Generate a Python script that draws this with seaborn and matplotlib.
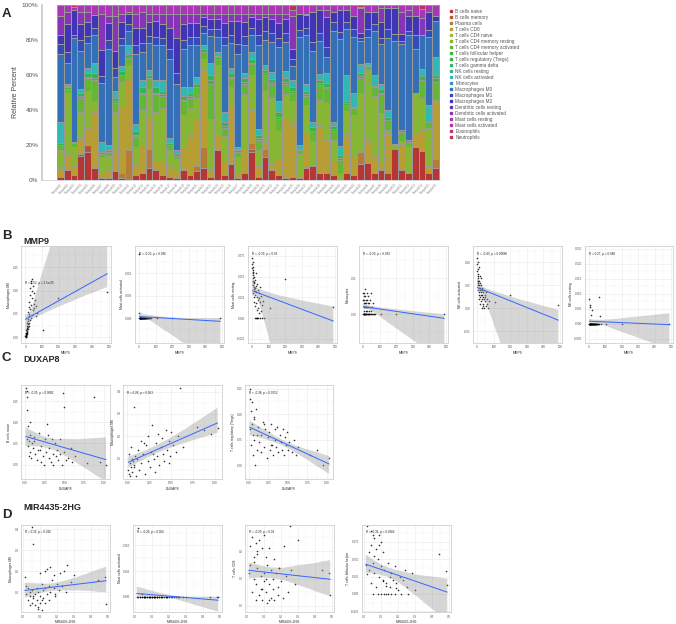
import numpy as np
import seaborn as sns
import matplotlib
matplotlib.use("Agg")
import matplotlib.pyplot as plt
from matplotlib.lines import Line2D
from matplotlib.collections import PolyCollection
from matplotlib.ticker import PercentFormatter, FormatStrFormatter, AutoMinorLocator

W, H = 676, 624

# ---- panel A data: CIBERSORT fractions (percent) ----
cell_types = ["B cells naive", "B cells memory", "Plasma cells", "T cells CD8",
              "T cells CD4 naive", "T cells CD4 memory resting",
              "T cells CD4 memory activated", "T cells follicular helper",
              "T cells regulatory (Tregs)", "T cells gamma delta", "NK cells resting",
              "NK cells activated", "Monocytes", "Macrophages M0", "Macrophages M1",
              "Macrophages M2", "Dendritic cells resting", "Dendritic cells activated",
              "Mast cells resting", "Mast cells activated", "Eosinophils", "Neutrophils"]

samples = [f"Sample{i:02d}" for i in range(1, 57)]

fractions = [
    [2, 0, 0, 5, 0, 10, 3, 0, 1, 0, 0, 12, 0, 39, 6, 5, 0, 11, 6, 0, 0, 0],
    [6, 0, 0, 9, 0, 35, 2, 1, 1, 0, 0, 1, 0, 12, 6, 16, 0, 7, 4, 0, 0, 0],
    [3, 0, 0, 5, 0, 11, 2, 0, 1, 0, 0, 0, 0, 59, 2, 14, 0, 0, 2, 0, 0, 1],
    [14, 1, 0, 9, 0, 15, 8, 1, 2, 0, 0, 2, 0, 22, 6, 9, 0, 7, 4, 0, 0, 0],
    [16, 4, 0, 10, 0, 21, 7, 1, 2, 0, 0, 3, 0, 14, 4, 8, 0, 6, 4, 0, 0, 0],
    [7, 0, 0, 32, 0, 6, 12, 1, 3, 0, 0, 6, 0, 16, 4, 7, 0, 0, 6, 0, 0, 0],
    [1, 0, 0, 3, 0, 9, 2, 0, 1, 0, 0, 6, 0, 34, 4, 15, 0, 21, 5, 0, 0, 0],
    [1, 0, 0, 5, 0, 8, 2, 0, 1, 0, 0, 3, 0, 55, 5, 10, 0, 4, 6, 0, 0, 0],
    [5, 0, 0, 12, 0, 22, 5, 1, 2, 0, 0, 4, 0, 8, 5, 10, 0, 20, 6, 0, 0, 0],
    [1, 0, 3, 38, 0, 14, 4, 0, 2, 0, 0, 3, 0, 12, 4, 9, 0, 5, 5, 0, 0, 0],
    [0, 0, 17, 41, 0, 8, 4, 0, 2, 0, 0, 5, 0, 8, 4, 6, 0, 1, 4, 0, 0, 0],
    [3, 0, 0, 6, 0, 10, 6, 1, 2, 0, 0, 4, 0, 40, 5, 10, 0, 8, 5, 0, 0, 0],
    [4, 0, 0, 16, 0, 20, 9, 1, 3, 0, 0, 4, 0, 16, 5, 9, 0, 9, 4, 0, 0, 0],
    [7, 0, 11, 18, 0, 16, 6, 0, 2, 0, 0, 3, 0, 15, 4, 8, 0, 5, 5, 0, 0, 0],
    [6, 0, 0, 5, 0, 28, 10, 1, 3, 0, 0, 4, 0, 20, 5, 9, 0, 4, 5, 0, 0, 0],
    [3, 0, 0, 8, 0, 30, 7, 1, 2, 0, 0, 6, 0, 20, 4, 8, 0, 6, 5, 0, 0, 0],
    [2, 0, 0, 6, 0, 9, 3, 0, 1, 0, 0, 3, 0, 45, 6, 12, 0, 8, 5, 0, 0, 0],
    [1, 0, 0, 4, 0, 7, 2, 0, 1, 0, 0, 2, 0, 38, 6, 20, 0, 14, 5, 0, 0, 0],
    [6, 0, 0, 13, 0, 18, 8, 1, 2, 0, 0, 5, 0, 22, 5, 9, 0, 6, 5, 0, 0, 0],
    [3, 0, 0, 22, 0, 16, 6, 1, 2, 0, 0, 3, 0, 24, 5, 8, 0, 5, 5, 0, 0, 0],
    [5, 0, 3, 27, 0, 12, 6, 0, 2, 0, 0, 4, 0, 18, 5, 8, 0, 5, 5, 0, 0, 0],
    [7, 0, 12, 44, 0, 6, 4, 0, 2, 0, 0, 2, 0, 7, 4, 5, 0, 2, 5, 0, 0, 0],
    [2, 0, 0, 4, 0, 29, 20, 2, 3, 0, 0, 7, 0, 15, 4, 6, 0, 3, 5, 0, 0, 0],
    [17, 0, 0, 9, 0, 40, 3, 1, 1, 0, 0, 2, 0, 9, 4, 6, 0, 3, 5, 0, 0, 0],
    [3, 0, 0, 8, 0, 14, 5, 1, 2, 0, 0, 6, 0, 38, 5, 8, 0, 5, 5, 0, 0, 0],
    [9, 0, 0, 34, 0, 10, 5, 1, 2, 0, 0, 3, 0, 14, 5, 8, 0, 4, 5, 0, 0, 0],
    [1, 0, 0, 3, 0, 9, 3, 1, 1, 0, 0, 1, 0, 53, 6, 13, 0, 4, 5, 0, 0, 0],
    [4, 0, 0, 14, 0, 31, 6, 1, 2, 0, 0, 3, 0, 16, 5, 8, 0, 5, 5, 0, 0, 0],
    [16, 2, 3, 19, 0, 20, 6, 1, 2, 0, 0, 4, 0, 10, 4, 6, 0, 2, 5, 0, 0, 0],
    [2, 0, 0, 6, 0, 9, 6, 1, 2, 0, 0, 3, 0, 48, 6, 9, 0, 3, 5, 0, 0, 0],
    [13, 0, 5, 4, 0, 29, 9, 1, 2, 0, 0, 3, 0, 14, 5, 8, 0, 2, 5, 0, 0, 0],
    [6, 0, 0, 3, 0, 38, 8, 1, 2, 0, 0, 4, 0, 17, 5, 8, 0, 3, 5, 0, 0, 0],
    [3, 0, 0, 9, 0, 16, 7, 1, 3, 0, 0, 6, 0, 31, 5, 9, 0, 5, 5, 0, 0, 0],
    [1, 0, 0, 35, 0, 13, 6, 1, 2, 0, 0, 4, 0, 17, 5, 8, 0, 3, 5, 0, 0, 0],
    [2, 0, 0, 30, 0, 13, 5, 1, 2, 0, 0, 4, 0, 8, 4, 6, 0, 19, 3, 0, 0, 3],
    [1, 0, 0, 2, 0, 12, 2, 0, 1, 0, 0, 2, 0, 62, 4, 9, 0, 0, 5, 0, 0, 0],
    [7, 0, 0, 20, 0, 16, 5, 1, 2, 0, 0, 4, 0, 28, 4, 7, 0, 1, 5, 0, 0, 0],
    [8, 0, 0, 0, 0, 15, 6, 0, 2, 0, 0, 3, 0, 42, 5, 18, 0, 0, 4, 0, 0, 0],
    [4, 0, 0, 27, 0, 15, 9, 1, 2, 0, 0, 3, 0, 19, 5, 13, 0, 0, 3, 0, 0, 0],
    [4, 0, 0, 20, 0, 22, 9, 1, 2, 0, 0, 6, 0, 10, 6, 18, 0, 4, 3, 0, 0, 0],
    [3, 0, 0, 8, 0, 12, 5, 1, 2, 0, 0, 2, 0, 52, 5, 6, 0, 0, 4, 0, 0, 0],
    [0, 0, 0, 0, 0, 4, 8, 1, 2, 0, 0, 5, 0, 63, 4, 13, 0, 0, 3, 0, 0, 0],
    [4, 0, 0, 23, 0, 13, 4, 1, 1, 0, 0, 15, 0, 27, 4, 7, 0, 0, 3, 0, 0, 0],
    [3, 0, 0, 10, 0, 24, 4, 0, 1, 0, 0, 8, 0, 32, 4, 8, 0, 0, 6, 0, 0, 0],
    [9, 0, 7, 0, 0, 34, 9, 1, 2, 0, 0, 5, 0, 13, 2, 3, 0, 14, 1, 0, 0, 1],
    [10, 0, 0, 13, 0, 40, 2, 0, 1, 0, 0, 1, 0, 15, 4, 10, 0, 0, 4, 0, 0, 0],
    [4, 0, 0, 10, 0, 34, 5, 0, 1, 0, 0, 6, 0, 25, 4, 7, 0, 0, 4, 0, 0, 0],
    [6, 0, 0, 4, 0, 29, 11, 1, 2, 0, 0, 3, 0, 23, 4, 9, 0, 8, 2, 0, 0, 0],
    [4, 0, 0, 23, 0, 2, 6, 0, 2, 0, 0, 4, 0, 42, 5, 12, 0, 0, 2, 0, 0, 0],
    [18, 0, 0, 0, 0, 3, 0, 0, 0, 0, 0, 0, 0, 59, 4, 15, 0, 0, 2, 0, 0, 0],
    [6, 0, 0, 15, 0, 2, 5, 0, 1, 0, 0, 0, 0, 50, 2, 4, 0, 13, 4, 0, 0, 0],
    [4, 0, 0, 0, 0, 15, 3, 0, 1, 0, 0, 0, 0, 60, 2, 9, 0, 3, 3, 0, 0, 0],
    [19, 0, 0, 8, 0, 23, 0, 0, 0, 0, 0, 0, 0, 25, 8, 11, 0, 0, 6, 0, 0, 0],
    [16, 0, 0, 12, 0, 18, 10, 0, 2, 0, 0, 4, 0, 19, 0, 0, 0, 10, 5, 0, 0, 2],
    [4, 0, 0, 4, 0, 22, 3, 0, 0, 0, 0, 10, 0, 39, 4, 10, 0, 0, 4, 0, 0, 0],
    [7, 0, 5, 34, 0, 0, 10, 2, 2, 0, 0, 10, 0, 21, 0, 3, 0, 0, 6, 0, 0, 0],
]

# ---- correlation panels: gene expression (x) and immune cell fractions (y) ----
mmp9 = [1, 2, 2, 3, 4, 4, 5, 6, 6, 7, 8, 8, 9, 10, 11, 12, 12, 13, 14, 15,
        16, 17, 18, 19, 20, 21, 22, 23, 24, 25, 27, 28, 29, 30, 32, 33, 35, 36, 38, 40,
        41, 43, 45, 47, 50, 52, 55, 58, 62, 65, 70, 105, 198, 490, 3]
mmp9_m0 = [0.002, 0.000, 0.004, 0.006, 0.001, 0.010, 0.003, 0.008, 0.015, 0.005,
           0.012, 0.020, 0.007, 0.018, 0.025, 0.010, 0.030, 0.014, 0.022, 0.040,
           0.017, 0.028, 0.055, 0.035, 0.024, 0.065, 0.045, 0.030, 0.075, 0.050,
           0.038, 0.090, 0.060, 0.105, 0.042, 0.115, 0.070, 0.120, 0.048, 0.100,
           0.085, 0.125, 0.058, 0.110, 0.072, 0.095, 0.062, 0.080, 0.045, 0.068,
           0.052, 0.015, 0.083, 0.096, 0.009]
mmp9_mast_act = [0.0143, 0, 0.0012, 0, 0, 0, 0, 0, 0, 0,
                 0, 0, 0, 0, 0, 0, 0, 0, 0, 0,
                 0, 0, 0, 0, 0, 0, 0, 0, 0, 0,
                 0, 0, 0, 0, 0, 0, 0, 0, 0, 0,
                 0, 0, 0, 0, 0, 0, 0, 0, 0, 0,
                 0, 0, 0, 0, 0]
mmp9_mast_rest = [0.072, 0.065, 0.060, 0.055, 0.058, 0.048, 0.062, 0.040, 0.052, 0.045,
                  0.030, 0.068, 0.035, 0.042, 0.025, 0.050, 0.038, 0.020, 0.044, 0.033,
                  0.000, 0.015, 0.036, 0.028, 0.046, 0.000, 0.032, 0.018, 0.054, 0.039,
                  0.010, 0.000, 0.026, 0.041, 0.000, 0.022, 0.034, 0.012, 0.000, 0.030,
                  0.006, 0.024, 0.000, 0.019, 0.037, 0.008, 0.027, 0.000, 0.016, 0.021,
                  0.000, 0.012, 0.047, 0.013, 0.056]
mmp9_mono = [0.006, 0.000, 0.004, 0.000, 0.005, 0.002, 0.000, 0.003, 0.006, 0.000,
             0.004, 0.001, 0.000, 0.005, 0.002, 0.000, 0.003, 0.007, 0.000, 0.002,
             0.004, 0.000, 0.001, 0.003, 0.000, 0.006, 0.002, 0.000, 0.004, 0.001,
             0.000, 0.003, 0.000, 0.002, 0.005, 0.000, 0.001, 0.003, 0.000, 0.002,
             0.000, 0.004, 0.000, 0.001, 0.006, 0.000, 0.002, 0.000, 0.003, 0.000,
             0.000, 0.000, 0.000, 0.000, 0.000]
mmp9_nk_act = [0.110, 0.095, 0.080, 0.100, 0.070, 0.060, 0.085, 0.050, 0.065, 0.040,
               0.075, 0.055, 0.030, 0.045, 0.090, 0.035, 0.060, 0.020, 0.050, 0.070,
               0.025, 0.040, 0.055, 0.010, 0.045, 0.030, 0.065, 0.015, 0.035, 0.050,
               0.000, 0.040, 0.020, 0.030, 0.045, 0.005, 0.025, 0.035, 0.010, 0.040,
               0.000, 0.020, 0.030, 0.015, 0.025, 0.005, 0.035, 0.010, 0.020, 0.000,
               0.015, 0.013, 0.029, 0.007, 0.060]
mmp9_nk_rest = [0, 0, 0.0083, 0, 0, 0.0055, 0, 0, 0.0063, 0,
                0, 0, 0.0030, 0, 0, 0, 0, 0, 0, 0.0045,
                0, 0, 0, 0, 0, 0, 0, 0, 0, 0,
                0, 0, 0, 0, 0, 0, 0, 0, 0, 0,
                0, 0, 0, 0, 0, 0, 0, 0.0089, 0, 0.0026,
                0, 0, 0, 0, 0]

duxap8 = [0.01, 0.02, 0.02, 0.03, 0.03, 0.04, 0.04, 0.05, 0.05, 0.06,
          0.07, 0.08, 0.09, 0.10, 0.12, 0.13, 0.15, 0.16, 0.18, 0.20,
          0.21, 0.23, 0.24, 0.26, 0.27, 0.28, 0.30, 0.31, 0.33, 0.34,
          0.35, 0.36, 0.38, 0.40, 0.41, 0.42, 0.44, 0.45, 0.47, 0.48,
          0.49, 0.50, 0.52, 0.55, 0.58, 0.60, 0.63, 0.07, 0.11, 0.19,
          0.29, 0.79, 0.88, 0.95, 1.03]
duxap8_b_naive = [0.180, 0.175, 0.160, 0.130, 0.060, 0.090, 0.045, 0.055, 0.020, 0.070,
                  0.030, 0.015, 0.050, 0.040, 0.065, 0.025, 0.010, 0.035, 0.075, 0.005,
                  0.045, 0.020, 0.000, 0.060, 0.030, 0.095, 0.015, 0.040, 0.005, 0.060,
                  0.025, 0.000, 0.050, 0.020, 0.035, 0.010, 0.060, 0.025, 0.000, 0.170,
                  0.135, 0.030, 0.010, 0.015, 0.040, 0.005, 0.020, 0.100, 0.055, 0.035,
                  0.070, 0.004, 0.160, 0.005, 0.000]
duxap8_m0 = [0.050, 0.120, 0.030, 0.080, 0.020, 0.150, 0.060, 0.100, 0.040, 0.090,
             0.330, 0.070, 0.110, 0.020, 0.140, 0.050, 0.180, 0.080, 0.120, 0.030,
             0.160, 0.090, 0.200, 0.060, 0.130, 0.250, 0.100, 0.040, 0.170, 0.110,
             0.210, 0.070, 0.150, 0.190, 0.120, 0.090, 0.230, 0.140, 0.080, 0.180,
             0.110, 0.220, 0.160, 0.130, 0.200, 0.415, 0.150, 0.060, 0.100, 0.170,
             0.120, 0.240, 0.230, 0.210, 0.235]
duxap8_tregs = [0.150, 0.130, 0.070, 0.107, 0.040, 0.123, 0.080, 0.060, 0.020, 0.090,
                0.050, 0.000, 0.110, 0.030, 0.075, 0.045, 0.060, 0.025, 0.085, 0.035,
                0.070, 0.015, 0.055, 0.065, 0.030, 0.080, 0.040, 0.020, 0.070, 0.050,
                0.035, 0.075, 0.025, 0.060, 0.045, 0.030, 0.070, 0.020, 0.055, 0.040,
                0.065, 0.030, 0.045, 0.025, 0.050, 0.020, 0.035, 0.095, 0.060, 0.080,
                0.040, 0.020, 0.030, 0.000, 0.015]

mir4435 = [0.01, 0.02, 0.02, 0.03, 0.03, 0.04, 0.04, 0.05, 0.05, 0.05,
           0.06, 0.06, 0.07, 0.07, 0.08, 0.08, 0.09, 0.09, 0.10, 0.10,
           0.10, 0.11, 0.11, 0.12, 0.12, 0.13, 0.13, 0.14, 0.14, 0.15,
           0.15, 0.16, 0.16, 0.17, 0.18, 0.18, 0.19, 0.20, 0.21, 0.22,
           0.23, 0.24, 0.25, 0.26, 0.28, 0.30, 0.04, 0.06, 0.09, 0.11,
           0.13, 0.19, 0.44, 0.48, 0.49]
mir_m0 = [0.17, 0.13, 0.09, 0.12, 0.06, 0.10, 0.08, 0.41, 0.05, 0.11,
          0.33, 0.07, 0.09, 0.04, 0.12, 0.06, 0.02, 0.10, 0.19, 0.08,
          0.05, 0.14, 0.015, 0.11, 0.07, 0.20, 0.12, 0.09, 0.21, 0.13,
          0.06, 0.22, 0.10, 0.16, 0.12, 0.18, 0.09, 0.14, 0.11, 0.19,
          0.13, 0.20, 0.10, 0.23, 0.15, 0.18, 0.04, 0.08, 0.03, 0.06,
          0.05, 0.08, 0.16, 0.17, 0.043]
mir_mast_act = [0, 0, 0.0135, 0, 0, 0.0006, 0, 0, 0, 0,
                0, 0, 0, 0, 0, 0, 0, 0, 0, 0,
                0, 0, 0, 0, 0, 0, 0, 0, 0, 0,
                0, 0, 0, 0, 0, 0, 0, 0, 0, 0,
                0, 0, 0, 0, 0, 0, 0, 0, 0, 0,
                0, 0, 0, 0, 0]
mir_cd8 = [0.12, 0.22, 0.15, 0.05, 0.25, 0.18, 0.10, 0.02, 0.23, 0.08,
           0.14, 0.20, 0.04, 0.24, 0.11, 0.06, 0.21, 0.02, 0.09, 0.26,
           0.12, 0.05, 0.18, 0.01, 0.15, 0.08, 0.21, 0.03, 0.13, 0.10,
           0.06, 0.17, 0.02, 0.12, 0.07, 0.04, 0.14, 0.09, 0.03, 0.22,
           0.11, 0.05, 0.29, 0.13, 0.08, 0.24, 0.16, 0.19, 0.06, 0.10,
           0.02, 0.14, 0.13, 0.12, 0.04]
mir_tfh = [0.042, 0.098, 0.028, 0.060, 0.035, 0.070, 0.015, 0.085, 0.045, 0.000,
           0.080, 0.030, 0.065, 0.010, 0.050, 0.000, 0.085, 0.025, 0.075, 0.000,
           0.040, 0.020, 0.060, 0.000, 0.035, 0.000, 0.015, 0.045, 0.000, 0.025,
           0.010, 0.000, 0.030, 0.020, 0.000, 0.040, 0.015, 0.005, 0.025, 0.000,
           0.020, 0.035, 0.010, 0.000, 0.030, 0.005, 0.090, 0.055, 0.070, 0.018,
           0.012, 0.008, 0.057, 0.033, 0.013]

sns.set_style("white")
plt.rcParams["font.family"] = ["Liberation Sans", "DejaVu Sans"]

fig = plt.figure(figsize=(W / 100, H / 100), dpi=100)


def box(x, y, w, h):
    # pixel box (left, top, width, height) -> figure fraction rect
    return [x / W, 1 - (y + h) / H, w / W, h / H]


# ================= A: stacked relative percent =================
ax = fig.add_axes(box(42, 5, 398, 175))
frac = np.array(fractions, dtype=float)
frac = frac / frac.sum(axis=1, keepdims=True)
cum = frac.cumsum(axis=1)
colors = sns.hls_palette(len(cell_types), h=0.0, l=0.46, s=0.55)

# draw cumulative totals from the top category down so each layer shows its own slice
for i in range(len(cell_types) - 1, -1, -1):
    sns.barplot(x=samples, y=cum[:, i], color=colors[i], saturation=1, width=1.0,
                edgecolor="#9a9a9a", linewidth=0.7, errorbar=None, ax=ax)

ax.set_xlim(-2.7, 55.65)
ax.set_ylim(0, 1)
ax.set_yticks(np.arange(0, 1.01, 0.2))
ax.yaxis.set_major_formatter(PercentFormatter(1.0, decimals=0))
ax.set_xticks(range(len(samples)))
ax.set_xticklabels(samples, rotation=45, ha="right", rotation_mode="anchor",
                   fontsize=2.2, color="#888888")
ax.tick_params(axis="y", labelsize=4.6, labelcolor="#555555", length=1.5, width=0.5,
               color="#bbbbbb", pad=1)
ax.tick_params(axis="x", length=1.2, width=0.3, color="#bbbbbb", pad=0.5)
ax.set_xlabel("")
ax.set_ylabel("Relative Percent", fontsize=5, color="#444444", labelpad=2)
for side in ["top", "right"]:
    ax.spines[side].set_visible(False)
ax.spines["left"].set_color("#c8c8c8")
ax.spines["left"].set_linewidth(1.2)
ax.spines["bottom"].set_color("#d0d0d0")
ax.spines["bottom"].set_linewidth(0.6)

handles = [Line2D([], [], ls="", marker="s", markersize=1.8, color=c) for c in colors]
ax.legend(handles, cell_types, loc="upper left", bbox_to_anchor=(449 / W, 1 - 9 / H),
          bbox_transform=fig.transFigure, frameon=False, fontsize=3.4,
          labelcolor="#555555", handlelength=0.8, handletextpad=0.5,
          labelspacing=0.21, borderaxespad=0, borderpad=0)


# ================= B/C/D: correlation panels =================
def corr_panel(rect, x, y, xlabel, ylabel, note, xlim, xticks, xfmt, ylim, yticks, yfmt,
               note_y=0.94):
    ax = fig.add_axes(box(*rect))
    sns.regplot(x=x, y=y, ax=ax, seed=1,
                scatter_kws={"s": 1.4, "color": "black", "linewidths": 0},
                line_kws={"color": "#3366ff", "lw": 0.7})
    for coll in ax.collections:
        if isinstance(coll, PolyCollection):
            coll.set_facecolor("#999999")
            coll.set_alpha(0.4)
            coll.set_edgecolor("none")
    ax.set_xlim(*xlim)
    ax.set_ylim(*ylim)
    ax.set_xticks(xticks)
    ax.set_yticks(yticks)
    ax.xaxis.set_major_formatter(FormatStrFormatter(xfmt))
    ax.yaxis.set_major_formatter(FormatStrFormatter(yfmt))
    ax.xaxis.set_minor_locator(AutoMinorLocator(2))
    ax.yaxis.set_minor_locator(AutoMinorLocator(2))
    ax.grid(True, which="major", color="#ebebeb", lw=0.45)
    ax.grid(True, which="minor", color="#f2f2f2", lw=0.3)
    ax.set_axisbelow(True)
    ax.tick_params(which="major", labelsize=2.1, labelcolor="#4d4d4d", length=1.0,
                   width=0.3, color="#555555", pad=0.8)
    ax.tick_params(which="minor", length=0)
    for sp in ax.spines.values():
        sp.set_color("#d0d0d0")
        sp.set_linewidth(0.6)
    ax.set_xlabel(xlabel, fontsize=2.4, labelpad=0.8)
    ax.set_ylabel(ylabel, fontsize=2.4, labelpad=1.0)
    ax.text(0.045, note_y, note, transform=ax.transAxes, fontsize=2.2, va="top",
            color="#222222")
    return ax


mmp9_lim, mmp9_ticks = (-25, 512), [0, 100, 200, 300, 400, 500]
corr_panel((21, 246, 90, 97), mmp9, mmp9_m0, "MMP9", "Macrophages M0",
           "R = 0.52, p = 2.5e-05", mmp9_lim, mmp9_ticks, "%d",
           (-0.012, 0.195), [0.0, 0.05, 0.10, 0.15], "%.2f", note_y=0.64)
corr_panel((135, 246, 89, 97), mmp9, mmp9_mast_act, "MMP9", "Mast cells activated",
           "R = -0.22, p = 0.096", mmp9_lim, mmp9_ticks, "%d",
           (-0.0055, 0.016), [0.0, 0.005, 0.010], "%.3f")
corr_panel((248, 246, 89, 97), mmp9, mmp9_mast_rest, "MMP9", "Mast cells resting",
           "R = -0.29, p = 0.03", mmp9_lim, mmp9_ticks, "%d",
           (-0.03, 0.087), [-0.025, 0.0, 0.025, 0.05, 0.075], "%.3f")
corr_panel((359, 246, 89, 97), mmp9, mmp9_mono, "MMP9", "Monocytes",
           "R = -0.29, p = 0.033", mmp9_lim, mmp9_ticks, "%d",
           (-0.008, 0.019), [0.0, 0.01], "%.2f")
corr_panel((473, 246, 89, 97), mmp9, mmp9_nk_act, "MMP9", "NK cells activated",
           "R = -0.43, p = 0.00086", mmp9_lim, mmp9_ticks, "%d",
           (-0.075, 0.135), [-0.05, 0.0, 0.05, 0.10], "%.2f")
corr_panel((585, 246, 88, 97), mmp9, mmp9_nk_rest, "MMP9", "NK cells resting",
           "R = 0.27, p = 0.048", mmp9_lim, mmp9_ticks, "%d",
           (-0.0065, 0.026), [-0.005, 0.0, 0.005, 0.010, 0.015, 0.020, 0.025], "%.3f")

dux_lim, dux_ticks = (-0.05, 1.08), [0.0, 0.25, 0.50, 0.75, 1.00]
corr_panel((21, 385, 89, 94), duxap8, duxap8_b_naive, "DUXAP8", "B cells naive",
           "R = -0.35, p = 0.0081", dux_lim, dux_ticks, "%.2f",
           (-0.034, 0.188), [0.0, 0.05, 0.10, 0.15], "%.2f")
corr_panel((123, 385, 99, 94), duxap8, duxap8_m0, "DUXAP8", "Macrophages M0",
           "R = 0.26, p = 0.053", dux_lim, dux_ticks, "%.2f",
           (0.008, 0.43), [0.1, 0.2, 0.3, 0.4], "%.1f")
corr_panel((245, 385, 88, 94), duxap8, duxap8_tregs, "DUXAP8",
           "T cells regulatory (Tregs)", "R = -0.38, p = 0.0052", dux_lim, dux_ticks,
           "%.2f", (-0.027, 0.157), [0.0, 0.05, 0.10, 0.15], "%.2f")

mir_lim, mir_ticks = (-0.012, 0.512), [0.0, 0.1, 0.2, 0.3, 0.4, 0.5]
corr_panel((21, 525, 89, 87), mir4435, mir_m0, "MIR4435-2HG", "Macrophages M0",
           "R = 0.32, p = 0.016", mir_lim, mir_ticks, "%.1f",
           (0.005, 0.42), [0.1, 0.2, 0.3, 0.4], "%.1f")
corr_panel((133, 525, 89, 87), mir4435, mir_mast_act, "MIR4435-2HG",
           "Mast cells activated", "R = -0.26, p = 0.056", mir_lim, mir_ticks, "%.1f",
           (-0.003, 0.014), [0.0, 0.005, 0.010], "%.3f")
corr_panel((245, 525, 89, 87), mir4435, mir_cd8, "MIR4435-2HG", "T cells CD8",
           "R = -0.29, p = 0.03", mir_lim, mir_ticks, "%.1f",
           (-0.022, 0.295), [0.0, 0.1, 0.2], "%.1f")
corr_panel((362, 525, 89, 87), mir4435, mir_tfh, "MIR4435-2HG",
           "T cells follicular helper", "R = -0.36, p = 0.0066", mir_lim, mir_ticks,
           "%.1f", (-0.026, 0.099), [-0.025, 0.0, 0.025, 0.05, 0.075], "%.3f")

# panel letters and gene titles
for letter, yy in [("A", 14), ("B", 236), ("C", 358), ("D", 515)]:
    fig.text(2 / W, 1 - yy / H, letter, fontsize=9.5, fontweight="bold",
             va="center", ha="left")
for title, yy in [("MMP9", 241), ("DUXAP8", 359), ("MIR4435-2HG", 508)]:
    fig.text(23 / W, 1 - yy / H, title, fontsize=6.5, fontweight="bold",
             va="center", ha="left")

fig.savefig("out.png", dpi=100)
